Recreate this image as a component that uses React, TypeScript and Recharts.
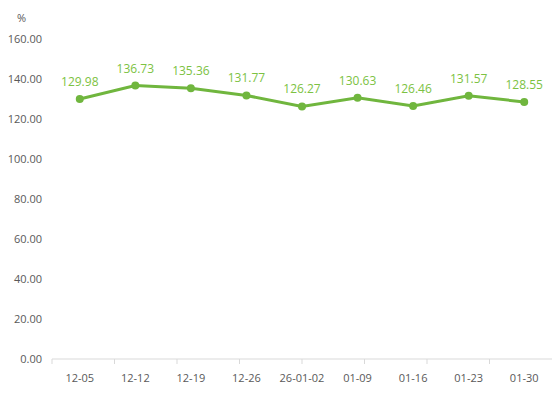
import { ComposedChart, Line, XAxis, YAxis, LabelList } from "recharts"

const dates = ["12-05", "12-12", "12-19", "12-26", "26-01-02", "01-09", "01-16", "01-23", "01-30"]
const ratio = [129.98, 136.73, 135.36, 131.77, 126.27, 130.63, 126.46, 131.57, 128.55]
const yTicks = [0, 20, 40, 60, 80, 100, 120, 140, 160]
const boundaryTicks = [0, 1, 2, 3, 4, 5, 6, 7, 8, 9]

const GREEN = "#70b63e"
const LABEL_GREEN = "#7cc242"
const AXIS_TEXT = "#595959"
const FONT = "'Open Sans', 'Noto Sans', sans-serif"

export default function App() {
  const data = dates.map((d, i) => ({ date: d, value: ratio[i] }))

  return (
    <div style={{ position: "absolute", left: 0, top: 0, background: "#fff" }}>
      <div style={{ position: "absolute", left: 17, top: 10, fontSize: 11, color: AXIS_TEXT, fontFamily: FONT }}>%</div>
      <ComposedChart width={554} height={393} data={data} margin={{ top: 39, right: 2, bottom: 0, left: 0 }}>
        {/* boundary tick marks between categories */}
        <XAxis
          xAxisId="bounds"
          type="number"
          domain={[0, 9]}
          ticks={boundaryTicks}
          tickFormatter={() => ""}
          height={1}
          stroke="#d9d9d9"
          tickLine={{ stroke: "#d9d9d9" }}
          tickSize={5}
          allowDataOverflow
        />
        <XAxis
          xAxisId="cat"
          dataKey="date"
          scale="band"
          axisLine={false}
          tickLine={false}
          height={33}
          tickMargin={8}
          interval={0}
          tick={{ fill: AXIS_TEXT, fontSize: 11, fontFamily: FONT }}
        />
        <YAxis
          domain={[0, 160]}
          ticks={yTicks}
          width={52}
          axisLine={false}
          tickLine={false}
          tickMargin={4}
          tickFormatter={(v: number) => v.toFixed(2)}
          tick={{ fill: AXIS_TEXT, fontSize: 11, fontFamily: FONT }}
        />
        <Line
          xAxisId="cat"
          dataKey="value"
          stroke={GREEN}
          strokeWidth={3}
          dot={{ r: 4, fill: GREEN, stroke: GREEN, strokeWidth: 0 }}
          activeDot={false}
          isAnimationActive={false}
        >
          <LabelList
            dataKey="value"
            position="top"
            offset={13}
            fill={LABEL_GREEN}
            fontSize={12}
            fontFamily={FONT}
            formatter={(v: number) => v.toFixed(2)}
          />
        </Line>
      </ComposedChart>
    </div>
  )
}
